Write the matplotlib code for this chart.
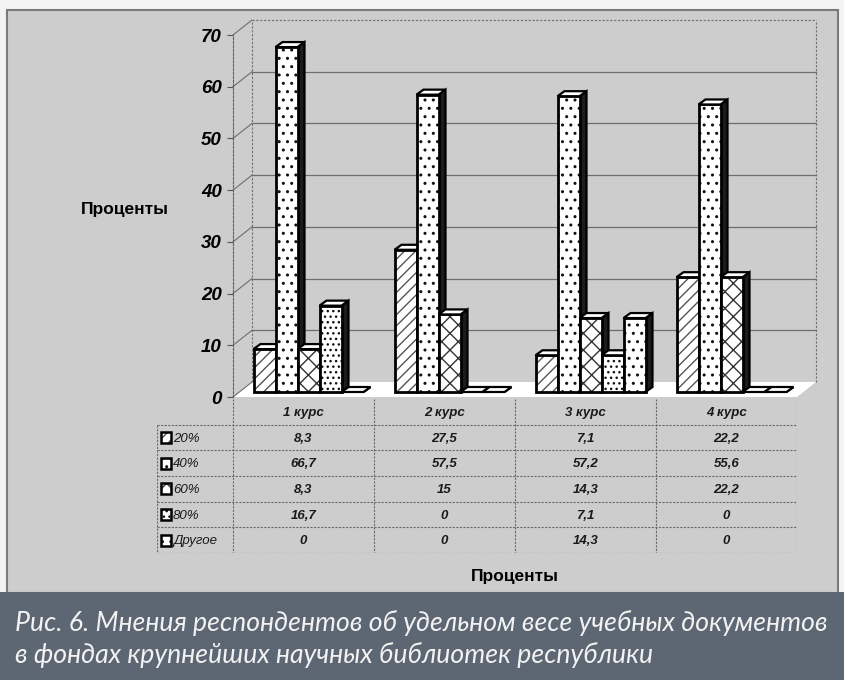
import matplotlib
matplotlib.use("Agg")
import matplotlib.pyplot as plt
from matplotlib.patches import Polygon, Rectangle

COURSES = ["1 курс", "2 курс", "3 курс", "4 курс"]
SERIES = ["20%", "40%", "60%", "80%", "Другое"]
V20 = [8.3, 27.5, 7.1, 22.2]
V40 = [66.7, 57.5, 57.2, 55.6]
V60 = [8.3, 15, 14.3, 22.2]
V80 = [16.7, 0, 7.1, 0]
V_OTHER = [0, 0, 14.3, 0]
Y_TICKS = [0, 10, 20, 30, 40, 50, 60, 70]
AXIS_LABEL = "Проценты"
CAPTION = [
    "Рис. 6. Мнения респондентов об удельном весе учебных документов",
    "в фондах крупнейших научных библиотек республики",
]

VALUES = [V20, V40, V60, V80, V_OTHER]
HATCHES = ["///", "..", "xx", "...", ".."]
HATCH_COLORS = ["#555555", "#111111", "#333333", "#111111", "#111111"]

W, H = 844, 680
BG = "#cdcdcd"
BAND = "#5d6673"
GRID = "#6e6e6e"

plt.rcParams.update({
    "font.family": ["Liberation Sans", "DejaVu Sans"],
    "hatch.linewidth": 1.0,
})


def px(left, top, width, height):
    return [left / W, 1 - (top + height) / H, width / W, height / H]


def fmt(v):
    return f"{v:g}".replace(".", ",")


fig = plt.figure(figsize=(W / 100, H / 100), dpi=100)
fig.patch.set_facecolor("#f3f3f3")
fig.add_artist(Rectangle((7 / W, 1 - 593 / H), 831 / W, 583 / H, zorder=-2,
                         transform=fig.transFigure, fc=BG, ec="#7a7a7a", lw=1.5))
fig.add_artist(Rectangle((0, 0), 1, 88 / H, transform=fig.transFigure,
                         fc=BAND, ec="none", zorder=-1))

# main (front plane) axes
ax = fig.add_axes(px(233, 35, 564, 362))
ax.set_xlim(-0.5, 3.5)
ax.set_ylim(0, 70)
ax.patch.set_visible(False)
for s in ("top", "right", "bottom"):
    ax.spines[s].set_visible(False)
ax.spines["left"].set_linestyle((0, (2, 1.5)))
ax.spines["left"].set_color("#606060")
ax.spines["left"].set_linewidth(0.8)
ax.set_xticks([])
ax.set_yticks(Y_TICKS)
ax.tick_params(axis="y", length=4, width=0.8, color="#555555", pad=4,
               labelsize=13.5)
for t in ax.get_yticklabels():
    t.set_fontweight("bold")
    t.set_fontstyle("italic")
ax.set_ylabel(AXIS_LABEL, rotation=0, fontsize=12.5, fontweight="bold",
              va="center", ha="center")
ax.yaxis.set_label_coords(-0.191, 0.517)

sx = 564 / 4.0
sy = 362 / 70.0
wdx, wdy = 19 / sx, 15 / sy     # back wall depth
bx, by = 5 / sx, 5 / sy         # bar plane offset
ddx, ddy = 7 / sx, 5 / sy       # bar depth
bw = 22 / sx

x_lo, x_hi = -0.5, 3.5
# floor
ax.add_patch(Polygon([(x_lo, 0), (x_hi, 0), (x_hi + wdx, wdy), (x_lo + wdx, wdy)],
                     closed=True, fc="white", ec="none", zorder=1, clip_on=False))
# back wall grid
for v in Y_TICKS[1:-1]:
    ax.plot([x_lo + wdx, x_hi + wdx], [v + wdy] * 2, color=GRID, lw=0.9,
            zorder=1.5, clip_on=False)
ax.plot([x_lo + wdx, x_hi + wdx], [70 + wdy] * 2, color=GRID, lw=0.8,
        ls=(0, (2, 1.5)), zorder=1.5, clip_on=False)
for xe in (x_lo + wdx, x_hi + wdx):
    ax.plot([xe, xe], [wdy, 70 + wdy], color=GRID, lw=0.8, ls=(0, (2, 1.5)),
            zorder=1.5, clip_on=False)
# side wall obliques
for v in Y_TICKS:
    ax.plot([x_lo, x_lo + wdx], [v, v + wdy], color=GRID, lw=0.8,
            zorder=1.5, clip_on=False)

# 3D bars
z = 3.0
for i in range(len(COURSES)):
    for j, vals in enumerate(VALUES):
        h = vals[i]
        x0 = i - 2.5 * bw + j * bw + bx
        x1 = x0 + bw
        y0, y1 = by, by + h
        ax.add_patch(Polygon([(x1, y0), (x1 + ddx, y0 + ddy), (x1 + ddx, y1 + ddy), (x1, y1)],
                             closed=True, fc="#1c1c1c", ec="black", lw=1.6,
                             zorder=z, clip_on=False))
        if h > 0:
            ax.add_patch(Rectangle((x0, y0), bw, h, fc="white", ec=HATCH_COLORS[j],
                                   lw=0, hatch=HATCHES[j], zorder=z + 0.01, clip_on=False))
            ax.add_patch(Rectangle((x0, y0), bw, h, fill=False, ec="black", lw=2.0,
                                   zorder=z + 0.02, clip_on=False))
        ax.add_patch(Polygon([(x0, y1), (x1, y1), (x1 + ddx, y1 + ddy), (x0 + ddx, y1 + ddy)],
                             closed=True, fc="white", ec="black", lw=1.6,
                             zorder=z + 0.03, clip_on=False))
        z += 0.1

# data table
tl = -0.5 - 76 / sx
tax = fig.add_axes(px(157, 399, 640, 154))
tax.set_xlim(tl, 3.5)
tax.set_ylim(6, 0)
tax.axis("off")
dash = dict(color="#6a6a6a", lw=0.8, ls=(0, (2, 1.2)))
for r in range(1, 7):
    tax.plot([tl, 3.5], [r, r], **dash)
for c in [-0.5, 0.5, 1.5, 2.5, 3.5]:
    tax.plot([c, c], [0, 6], **dash)
tax.plot([tl, tl], [1, 6], **dash)

cell_font = dict(fontsize=9.5, fontstyle="italic", fontweight="bold",
                 color="#1a1a1a")
for i, name in enumerate(COURSES):
    tax.text(i, 0.55, name, ha="center", va="center", **cell_font)
for j, (name, vals) in enumerate(zip(SERIES, VALUES)):
    r = j + 1.5
    kx = tl + 4 / sx
    tax.add_patch(Rectangle((kx, r - 0.22), 10 / sx, 0.44, fc="white",
                            ec=HATCH_COLORS[j], lw=0, hatch=HATCHES[j]))
    tax.add_patch(Rectangle((kx, r - 0.22), 10 / sx, 0.44, fill=False,
                            ec="black", lw=1.8))
    tax.text(kx + 12 / sx, r + 0.05, name, ha="left", va="center",
             fontsize=9.5, fontstyle="italic", color="#1a1a1a")
    for i, v in enumerate(vals):
        tax.text(i, r + 0.05, fmt(v), ha="center", va="center", **cell_font)

fig.text(515 / W, 1 - 577 / H, AXIS_LABEL, ha="center", va="center",
         fontsize=12.5, fontweight="bold")

# caption band
for k, line in enumerate(CAPTION):
    fig.text(15 / W, 1 - (623 + 32 * k) / H, line, ha="left", va="center",
             color="#f2f2f2", fontsize=19.2, fontstyle="italic",
             family=["Lato", "DejaVu Sans"])

fig.savefig("out.png", dpi=100, facecolor=fig.get_facecolor())
